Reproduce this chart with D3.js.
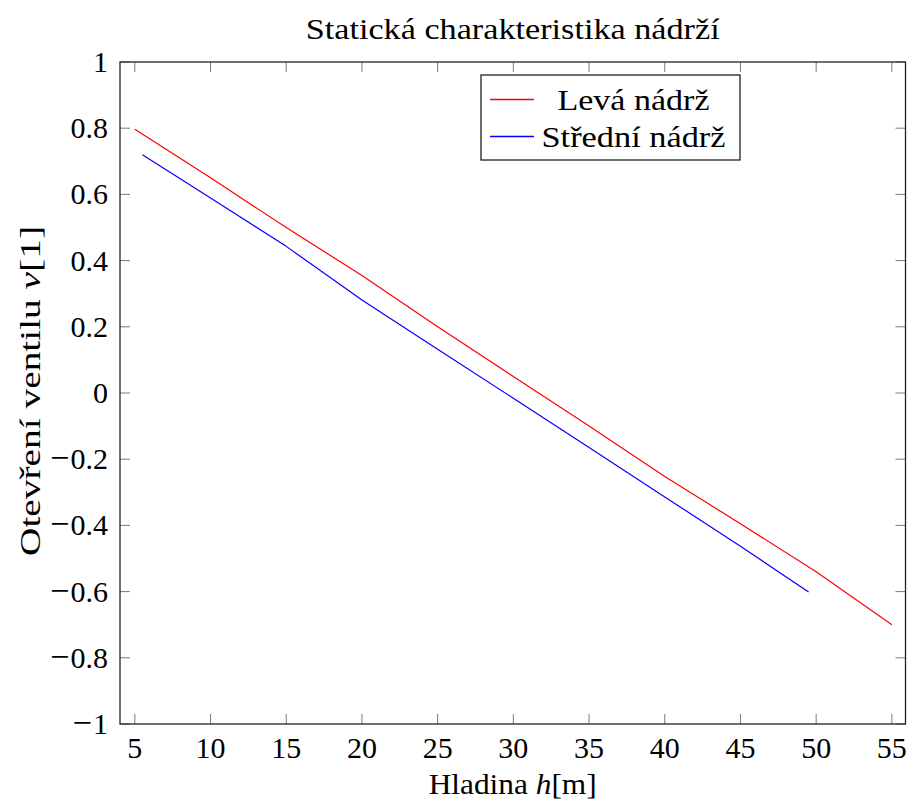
<!DOCTYPE html>
<html>
<head>
<meta charset="utf-8">
<script src="https://cdn.jsdelivr.net/npm/d3@7"></script>
<style>
  html, body { margin: 0; padding: 0; background: #fff; }
  svg text { font-family: "Liberation Serif", "DejaVu Serif", serif; fill: #000; }
</style>
</head>
<body>
<svg id="chart" width="908" height="807"></svg>
<script>
// Hladina (m) vs. otevření ventilu for both tanks
const levaH = [5, 10, 15, 20, 25, 30, 35, 40, 45, 50, 55];
const levaV = [0.797, 0.65, 0.50, 0.355, 0.20, 0.05, -0.10, -0.252, -0.395, -0.54, -0.70];

const stredniH = [5.5, 10, 15, 20, 25, 30, 35, 40, 45, 49.5];
const stredniV = [0.72, 0.589, 0.443, 0.281, 0.132, -0.016, -0.165, -0.314, -0.463, -0.601];

const xTicks = [5, 10, 15, 20, 25, 30, 35, 40, 45, 50, 55];
const yTicks = [-1, -0.8, -0.6, -0.4, -0.2, 0, 0.2, 0.4, 0.6, 0.8, 1];

const seriesNames = ["Levá nádrž", "Střední nádrž"];
const seriesColors = ["#ff0000", "#0000ff"];

const svg = d3.select("#chart");
const plot = { left: 120, right: 905.5, top: 62, bottom: 724 };
const fs = 30;

const x = d3.scaleLinear().domain([4.02, 55.9]).range([plot.left, plot.right]);
const y = d3.scaleLinear().domain([-1, 1]).range([plot.bottom, plot.top]);

const tickLen = 10;

// ticks pointing inward on all four sides
const ax = svg.append("g");
const tickColor = "#7a7a7a";
ax.selectAll(".xt-b").data(xTicks).join("line")
  .attr("x1", d => x(d)).attr("x2", d => x(d))
  .attr("y1", plot.bottom).attr("y2", plot.bottom - tickLen)
  .attr("stroke", tickColor).attr("stroke-width", 1);
ax.selectAll(".xt-t").data(xTicks).join("line")
  .attr("x1", d => x(d)).attr("x2", d => x(d))
  .attr("y1", plot.top).attr("y2", plot.top + tickLen)
  .attr("stroke", tickColor).attr("stroke-width", 1);
ax.selectAll(".yt-l").data(yTicks).join("line")
  .attr("x1", plot.left).attr("x2", plot.left + tickLen)
  .attr("y1", d => y(d)).attr("y2", d => y(d))
  .attr("stroke", tickColor).attr("stroke-width", 1);
ax.selectAll(".yt-r").data(yTicks).join("line")
  .attr("x1", plot.right).attr("x2", plot.right - tickLen)
  .attr("y1", d => y(d)).attr("y2", d => y(d))
  .attr("stroke", tickColor).attr("stroke-width", 1);

// tick labels
svg.append("g").selectAll("text").data(xTicks).join("text")
  .attr("x", d => x(d)).attr("y", 758)
  .attr("text-anchor", "middle").attr("font-size", fs)
  .text(d => d);
svg.append("g").selectAll("text").data(yTicks).join("text")
  .attr("x", 108).attr("y", d => y(d) + 10)
  .attr("text-anchor", "end").attr("font-size", fs)
  .each(function (d) {
    const t = d3.select(this);
    if (d < 0) {
      t.append("tspan").attr("font-size", fs * 1.15).text("\u2212");
      t.append("tspan").attr("dx", 1).text(Math.abs(d));
    } else {
      t.text(d);
    }
  });

// data lines
const line = d3.line().x(d => x(d[0])).y(d => y(d[1]));
const series = [
  d3.zip(levaH, levaV),
  d3.zip(stredniH, stredniV)
];
svg.append("g").selectAll("path").data(series).join("path")
  .attr("d", line)
  .attr("fill", "none")
  .attr("stroke", (d, i) => seriesColors[i])
  .attr("stroke-width", 1.2)
  .attr("stroke-linejoin", "round");

// frame
svg.append("rect")
  .attr("x", plot.left).attr("y", plot.top)
  .attr("width", plot.right - plot.left).attr("height", plot.bottom - plot.top)
  .attr("fill", "none").attr("stroke", "#222").attr("stroke-width", 1.3);

// legend
const lg = svg.append("g");
lg.append("rect").attr("x", 481).attr("y", 75).attr("width", 259).attr("height", 85)
  .attr("fill", "#fff").attr("stroke", "#222").attr("stroke-width", 1.3);
const legendRows = [99.5, 136.5];
const legendWidths = [152, 184];
seriesNames.forEach((name, i) => {
  lg.append("line").attr("x1", 490).attr("x2", 534)
    .attr("y1", legendRows[i]).attr("y2", legendRows[i])
    .attr("stroke", seriesColors[i]).attr("stroke-width", 1.3);
  lg.append("text").attr("x", 633.5 - legendWidths[i] / 2).attr("y", legendRows[i] + 10)
    .attr("font-size", fs)
    .attr("textLength", legendWidths[i]).attr("lengthAdjust", "spacingAndGlyphs")
    .text(name);
});

// title and axis labels
svg.append("text").attr("x", 512.7 - 207).attr("y", 39)
  .attr("font-size", fs)
  .attr("textLength", 414).attr("lengthAdjust", "spacingAndGlyphs")
  .text("Statická charakteristika nádrží");

const xl = svg.append("text").attr("x", 512.7 - 84).attr("y", 794)
  .attr("font-size", fs)
  .attr("textLength", 168).attr("lengthAdjust", "spacingAndGlyphs");
xl.append("tspan").text("Hladina ");
xl.append("tspan").attr("font-style", "italic").text("h");
xl.append("tspan").text("[m]");

const yl = svg.append("text")
  .attr("transform", "translate(40,556) rotate(-90)")
  .attr("font-size", fs)
  .attr("textLength", 330).attr("lengthAdjust", "spacingAndGlyphs");
yl.append("tspan").text("Otevření ventilu ");
yl.append("tspan").attr("font-style", "italic").text("v");
yl.append("tspan").text("[1]");
</script>
</body>
</html>
